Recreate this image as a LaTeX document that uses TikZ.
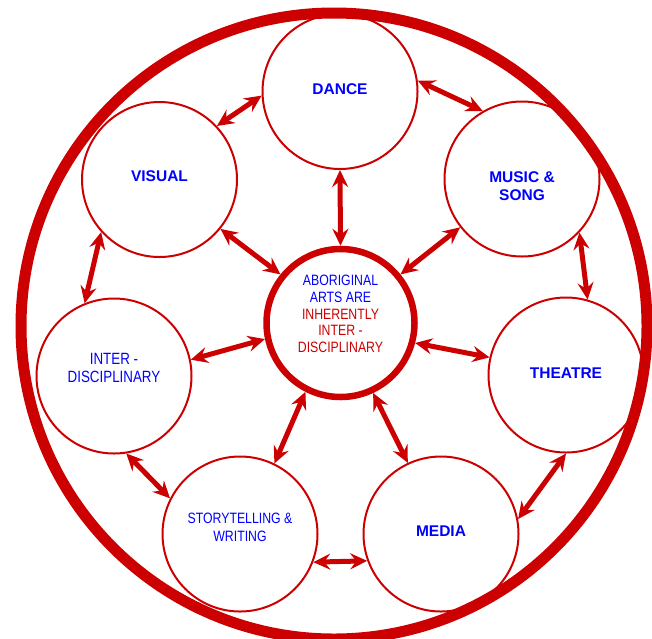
\documentclass[tikz,border=0pt]{standalone}
\usepackage{fontspec}
\setmainfont{Liberation Sans}
\newfontfamily\narrowfont{Liberation Sans}[FakeStretch=0.82]
\usetikzlibrary{arrows.meta}
\definecolor{artred}{HTML}{CC0000}
\definecolor{artblue}{HTML}{0000FF}
\tikzset{
  disc/.style={circle,draw=artred,line width=2pt,fill=white,minimum size=155pt,inner sep=0pt},
  hub/.style={disc,line width=6.5pt,minimum size=148pt},
  boldlbl/.style={text=artblue,font=\fontsize{15.5}{18}\selectfont\bfseries,align=center},
  thinlbl/.style={text=artblue,font=\narrowfont\fontsize{15}{18}\selectfont,align=center},
  link/.style={artred,line width=5pt,{Stealth[length=17pt,width=16pt,inset=6pt]}-{Stealth[length=17pt,width=16pt,inset=6pt]}}
}

\begin{document}
\begin{tikzpicture}[x=1pt,y=-1pt]
\useasboundingbox (0,0) rectangle (652,638);
\node[hub] (hub) at (340.5,323) {};
\node[disc] (dance) at (340,91.5) {};
\node[disc] (music) at (522,179) {};
\node[disc] (theatre) at (566,375) {};
\node[disc] (media) at (441,534) {};
\node[disc] (story) at (240,534) {};
\node[disc] (inter) at (114,376) {};
\node[disc] (visual) at (159.5,179.5) {};
\node[boldlbl] (danceTxt) at (340,89) {DANCE};
\node[boldlbl] (musicTxt) at (522,186) {MUSIC \&\\SONG};
\node[boldlbl] (theatreTxt) at (566,373) {THEATRE};
\node[boldlbl] (mediaTxt) at (441,531) {MEDIA};
\node[thinlbl] (storyTxt) at (240,527) {STORYTELLING \&\\WRITING};
\node[thinlbl,font=\narrowfont\fontsize{16.3}{18.5}\selectfont] (interTxt) at (114,368) {INTER -\\DISCIPLINARY};
\node[boldlbl] (visualTxt) at (159.5,176) {VISUAL};
\node[font=\narrowfont\fontsize{15}{16.7}\selectfont,align=center] (hubTxt) at (340.5,314)
  {\textcolor{artblue}{ABORIGINAL}\\\textcolor{artblue}{ARTS ARE}\\\textcolor{artred}{INHERENTLY}\\\textcolor{artred}{INTER -}\\\textcolor{artred}{DISCIPLINARY}};
\draw[link] (dance.8) -- (music.120);
\draw[link] (dance.183) -- (visual.43.5);
\draw[link] (dance.270) -- (hub.90);
\draw[link] (visual.321.6) -- (hub.141.3);
\draw[link] (visual.222) -- (inter.112.7);
\draw[link] (music.218.3) -- (hub.39);
\draw[link] (music.317) -- (theatre.74.4);
\draw[link] (hub.192.4) -- (inter.12.6);
\draw[link] (hub.345.5) -- (theatre.167.4);
\draw[link] (inter.279) -- (story.153);
\draw[link] (hub.243.7) -- (story.64.4);
\draw[link] (hub.295.3) -- (media.115.6);
\draw[link] (story.339) -- (media.200.8);
\draw[link] (media.11.5) -- (theatre.270);
\draw[artred,line width=11pt] (334,326) circle[radius=313pt];
\end{tikzpicture}
\end{document}
